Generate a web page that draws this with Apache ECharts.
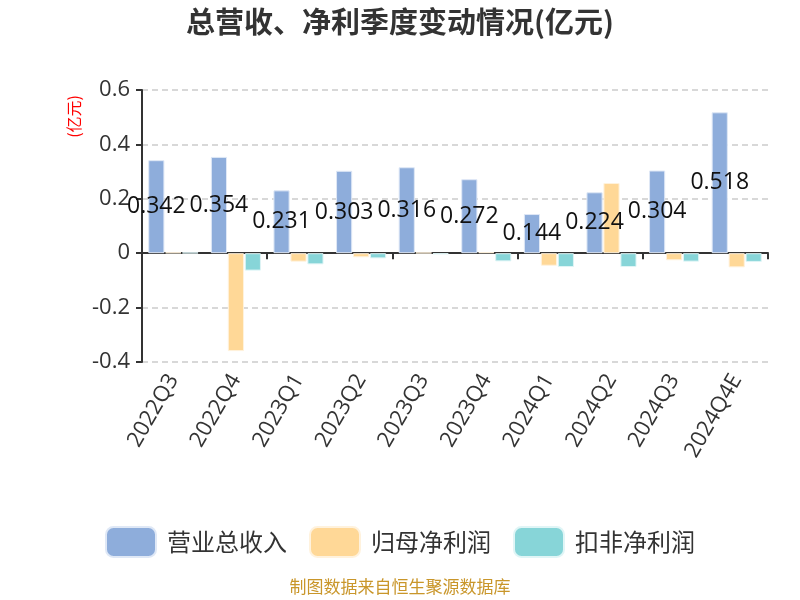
<!DOCTYPE html>
<html>
<head>
<meta charset="utf-8">
<script src="https://cdn.jsdelivr.net/npm/echarts@6/dist/echarts.min.js"></script>
<style>
  html, body { margin: 0; padding: 0; background: #fff; }
  #chart { width: 800px; height: 600px; }
</style>
</head>
<body>
<div id="chart"></div>
<script>
const categories = ["2022Q3", "2022Q4", "2023Q1", "2023Q2", "2023Q3", "2023Q4", "2024Q1", "2024Q2", "2024Q3", "2024Q4E"];
const revenue = [0.342, 0.354, 0.231, 0.303, 0.316, 0.272, 0.144, 0.224, 0.304, 0.518];
const netProfit = [0.003, -0.36, -0.031, -0.015, 0.002, 0.004, -0.046, 0.258, -0.026, -0.052];
const deductedProfit = [0.002, -0.064, -0.041, -0.019, -0.004, -0.03, -0.051, -0.051, -0.031, -0.032];
const yTicks = { min: -0.4, max: 0.6, step: 0.2 };

const font = '"Noto Sans CJK SC", "Noto Sans", sans-serif';
const numFont = '"Open Sans", "Noto Sans CJK SC", sans-serif';
const chart = echarts.init(document.getElementById("chart"));

const option = {
  textStyle: { fontFamily: font },
  title: {
    text: "总营收、净利季度变动情况(亿元)",
    left: "center",
    top: 2,
    textStyle: { fontSize: 29, fontWeight: "bold", color: "#333", fontFamily: font }
  },
  legend: {
    top: 521,
    left: "center",
    itemWidth: 50,
    itemHeight: 30,
    itemGap: 22,
    textStyle: { fontSize: 24, color: "#333", fontFamily: font, padding: [0, 0, 0, 6] },
    data: ["营业总收入", "归母净利润", "扣非净利润"]
  },
  grid: { left: 142, right: 32, top: 90, bottom: 238 },
  graphic: [
    {
      type: "text",
      left: 66,
      top: 95,
      rotation: Math.PI / 2,
      style: { text: "(亿元)", fill: "#f00", font: "16px " + font }
    },
    {
      type: "text",
      left: "center",
      top: 578,
      style: { text: "制图数据来自恒生聚源数据库", fill: "#c9962a", font: "17px " + font }
    }
  ],
  xAxis: [
    {
      type: "category",
      data: categories,
      axisLine: { onZero: true, lineStyle: { color: "#333", width: 2 } },
      axisTick: { show: true, length: 6, lineStyle: { color: "#333", width: 2 } },
      axisLabel: { show: false }
    },
    {
      type: "category",
      data: categories,
      position: "bottom",
      axisLine: { show: false },
      axisTick: { show: false },
      axisLabel: { rotate: 60, fontSize: 22, color: "#333", margin: 14, interval: 0, fontFamily: numFont }
    }
  ],
  yAxis: {
    type: "value",
    min: yTicks.min,
    max: yTicks.max,
    interval: yTicks.step,
    axisLine: { show: true, lineStyle: { color: "#333", width: 2 } },
    axisTick: { show: true, length: 6, lineStyle: { color: "#333", width: 2 } },
    axisLabel: { fontSize: 22, color: "#333", margin: 12, fontFamily: numFont },
    splitLine: { show: true, lineStyle: { type: [6, 4], color: "#ccc", width: 1.5 } }
  },
  series: [
    {
      name: "营业总收入",
      type: "bar",
      data: revenue,
      barGap: "5%",
      barCategoryGap: "20%",
      itemStyle: { color: "#8eaddb", borderColor: "#dfe8f6", borderWidth: 1 },
      label: { show: true, position: "inside", color: "#111", fontSize: 23, fontFamily: numFont }
    },
    {
      name: "归母净利润",
      type: "bar",
      data: netProfit,
      itemStyle: { color: "#ffd897", borderColor: "#fff2dd", borderWidth: 1 }
    },
    {
      name: "扣非净利润",
      type: "bar",
      data: deductedProfit,
      itemStyle: { color: "#87d5d8", borderColor: "#e0f5f6", borderWidth: 1 }
    }
  ]
};

chart.setOption(option);
</script>
</body>
</html>
